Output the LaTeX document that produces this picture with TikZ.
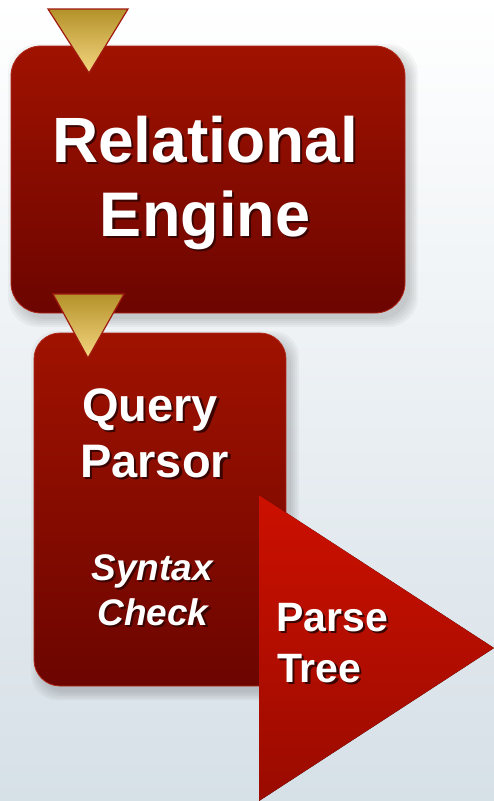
\documentclass[tikz,border=0pt]{standalone}
\usepackage{fontspec}
\setmainfont{Liberation Sans}
\definecolor{bgbot}{HTML}{D6E0E7}
\definecolor{boxtop}{HTML}{A01200}
\definecolor{boxbot}{HTML}{6C0500}
\definecolor{boxedge}{HTML}{B02818}
\definecolor{goldtop}{HTML}{B4922A}
\definecolor{goldbot}{HTML}{F4D680}
\definecolor{goldedge}{HTML}{A01A10}
\definecolor{ptop}{HTML}{CC1000}
\definecolor{pbot}{HTML}{9A0B00}
\definecolor{txtshadow}{HTML}{3A0400}
\newcommand\shtx[1]{\makebox[0pt][l]{\kern2.2pt\raisebox{-2.2pt}{\color{txtshadow}#1}}#1}
\tikzset{
  redbox/.style={draw=boxedge, line width=0.8pt, top color=boxtop, bottom color=boxbot, inner sep=0pt, outer sep=0pt},
  goldtri/.style={draw=goldedge, line width=1.2pt, top color=goldtop, bottom color=goldbot, line join=miter},
  parsetri/.style={top color=ptop, bottom color=pbot},
  txt/.style={text=white, font=\bfseries, inner sep=0pt},
}
\begin{document}
\begin{tikzpicture}[x=1pt,y=-1pt]
\useasboundingbox (0,0) rectangle (494,801);
\fill[top color=white, middle color=white, bottom color=bgbot] (0,0) rectangle (494,801);
% soft shadows
\foreach \s in {0,2,4,6,8}{
  \fill[black,opacity=0.035,rounded corners=30] (11+5-\s,46+6-\s) rectangle (405+5+\s,313+6+\s);
  \fill[black,opacity=0.035,rounded corners=26] (34+5-\s,333+6-\s) rectangle (286+5+\s,686+6+\s);
}
% boxes
\node[redbox, rounded corners=30pt, minimum width=394pt, minimum height=267pt] (re) at (208,179.5) {};
\node[redbox, rounded corners=26pt, minimum width=252pt, minimum height=353pt] (qp) at (160,509.5) {};
% gold triangles
\coordinate (g1a) at (48,9); \coordinate (g1b) at (128,9); \coordinate (g1c) at (89,73);
\draw[goldtri] (g1a) -- (g1b) -- (g1c) -- cycle;
\coordinate (g2a) at (53,294); \coordinate (g2b) at (124,294); \coordinate (g2c) at (88,358);
\draw[goldtri] (g2a) -- (g2b) -- (g2c) -- cycle;
% parse tree arrow
\coordinate (pa) at (259,495); \coordinate (pb) at (494,648); \coordinate (pc) at (259,801);
\fill[parsetri] (pa) -- (pb) -- (pc) -- cycle;
% texts
\node[txt, font=\bfseries\fontsize{64}{64}\selectfont, anchor=base] (t1) at (205,162) {\shtx{Relational}};
\node[txt, font=\bfseries\fontsize{63}{63}\selectfont, anchor=base] (t2) at (205,236) {\shtx{Engine}};
\node[txt, font=\bfseries\fontsize{47}{47}\selectfont, anchor=base west] (t3) at (82,421) {\shtx{Query}};
\node[txt, font=\bfseries\fontsize{47}{47}\selectfont, anchor=base west] (t4) at (80,477) {\shtx{Parsor}};
\node[txt, font=\bfseries\itshape\fontsize{37}{37}\selectfont, anchor=base] (t5) at (152,580) {\shtx{Syntax}};
\node[txt, font=\bfseries\itshape\fontsize{37}{37}\selectfont, anchor=base] (t6) at (153,625) {\shtx{Check}};
\node[txt, font=\bfseries\fontsize{41}{41}\selectfont, anchor=base west] (t7) at (276,631) {\shtx{Parse}};
\node[txt, font=\bfseries\fontsize{41}{41}\selectfont, anchor=base west] (t8) at (277,682) {\shtx{Tree}};
\end{tikzpicture}
\end{document}
